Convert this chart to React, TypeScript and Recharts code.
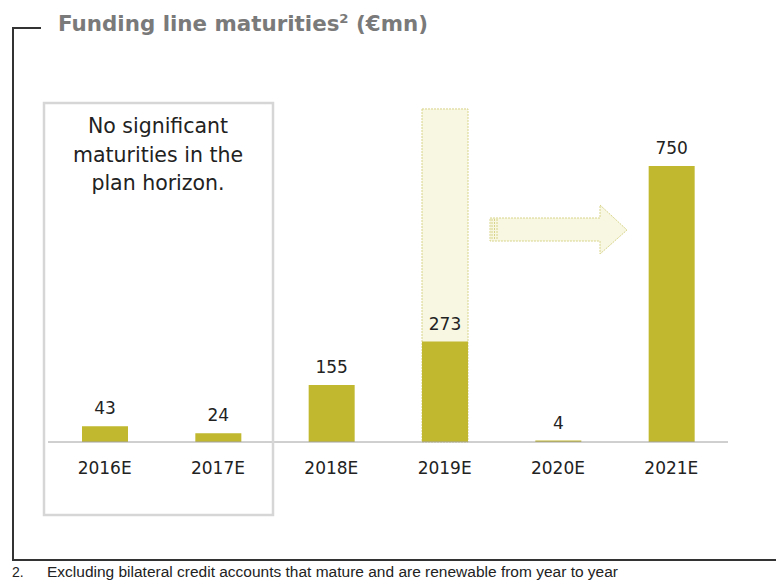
import React from "react";
import { BarChart, Bar, XAxis, YAxis, LabelList } from "recharts";

const years = ["2016E", "2017E", "2018E", "2019E", "2020E", "2021E"];
const maturities = [43, 24, 155, 273, 4, 750];
// light "shadow" column behind 2019E (amount moved to 2021E)
const shifted = [null, null, null, 905, null, null];

const data = years.map((year, i) => ({
  year,
  value: maturities[i],
  shifted: shifted[i],
}));

const FONT = "'DejaVu Sans', Verdana, sans-serif";
const NOTE_FONT = "'Liberation Sans Narrow', 'Liberation Sans', sans-serif";
const OLIVE = "#c1b82f";
const PALE = "#f7f7e2";
const PALE_EDGE = "#d8d48a";

export default function App() {
  return (
    <div style={{ position: "absolute", left: 0, top: 0, width: 776, height: 580, background: "#fff" }}>
      <BarChart
        width={776}
        height={580}
        data={data}
        margin={{ top: 74, right: 48, bottom: 108, left: 48 }}
        barSize={46}
        barGap={-46}
      >
        <XAxis
          dataKey="year"
          stroke="#a0a0a0"
          tickLine={false}
          tick={{ fontSize: 17, fill: "#222", fontFamily: FONT }}
          tickMargin={14}
        />
        <YAxis hide domain={[0, 1000]} />
        <Bar
          dataKey="shifted"
          fill={PALE}
          stroke={PALE_EDGE}
          strokeDasharray="2 1"
          isAnimationActive={false}
        />
        <Bar dataKey="value" fill={OLIVE} isAnimationActive={false}>
          <LabelList
            dataKey="value"
            position="top"
            offset={12}
            style={{ fontSize: 17, fill: "#222", fontFamily: FONT }}
          />
        </Bar>
      </BarChart>
      <svg
        width={776}
        height={580}
        style={{ position: "absolute", left: 0, top: 0, pointerEvents: "none" }}
      >
        <path d="M41,28 H13 V560 H776" fill="none" stroke="#333" strokeWidth={2} />
        <text
          x={58}
          y={31}
          fontFamily={FONT}
          fontWeight="bold"
          fontSize={21}
          fill="#7a7a7a"
          textLength={370}
          lengthAdjust="spacingAndGlyphs"
        >
          Funding line maturities<tspan fontSize={13} dy={-8}>2</tspan>
          <tspan dy={8}> (€mn)</tspan>
        </text>
        <rect x={44} y={103} width={229} height={412} fill="none" stroke="#d6d6d6" strokeWidth={2.5} />
        <g fontFamily={FONT} fontSize={20.5} fill="#222" textAnchor="middle">
          <text x={158} y={133}>No significant</text>
          <text x={158} y={162}>maturities in the</text>
          <text x={158} y={190}>plan horizon.</text>
        </g>
        <g stroke={PALE_EDGE} strokeDasharray="2 1" strokeWidth={1}>
          <path d="M490,218 H600 V205 L627,230 L600,254 V241 H490 Z" fill={PALE} />
          <line x1={492} y1={219} x2={492} y2={240} />
          <line x1={494.5} y1={219} x2={494.5} y2={240} />
          <line x1={497} y1={219} x2={497} y2={240} />
        </g>
        <text x={12} y={577} fontFamily={NOTE_FONT} fontSize={14} fill="#222">
          2.
        </text>
        <text
          x={47}
          y={577}
          fontFamily={NOTE_FONT}
          fontSize={14}
          fill="#222"
          textLength={571}
          lengthAdjust="spacingAndGlyphs"
        >
          Excluding bilateral credit accounts that mature and are renewable from year to year
        </text>
      </svg>
    </div>
  );
}
